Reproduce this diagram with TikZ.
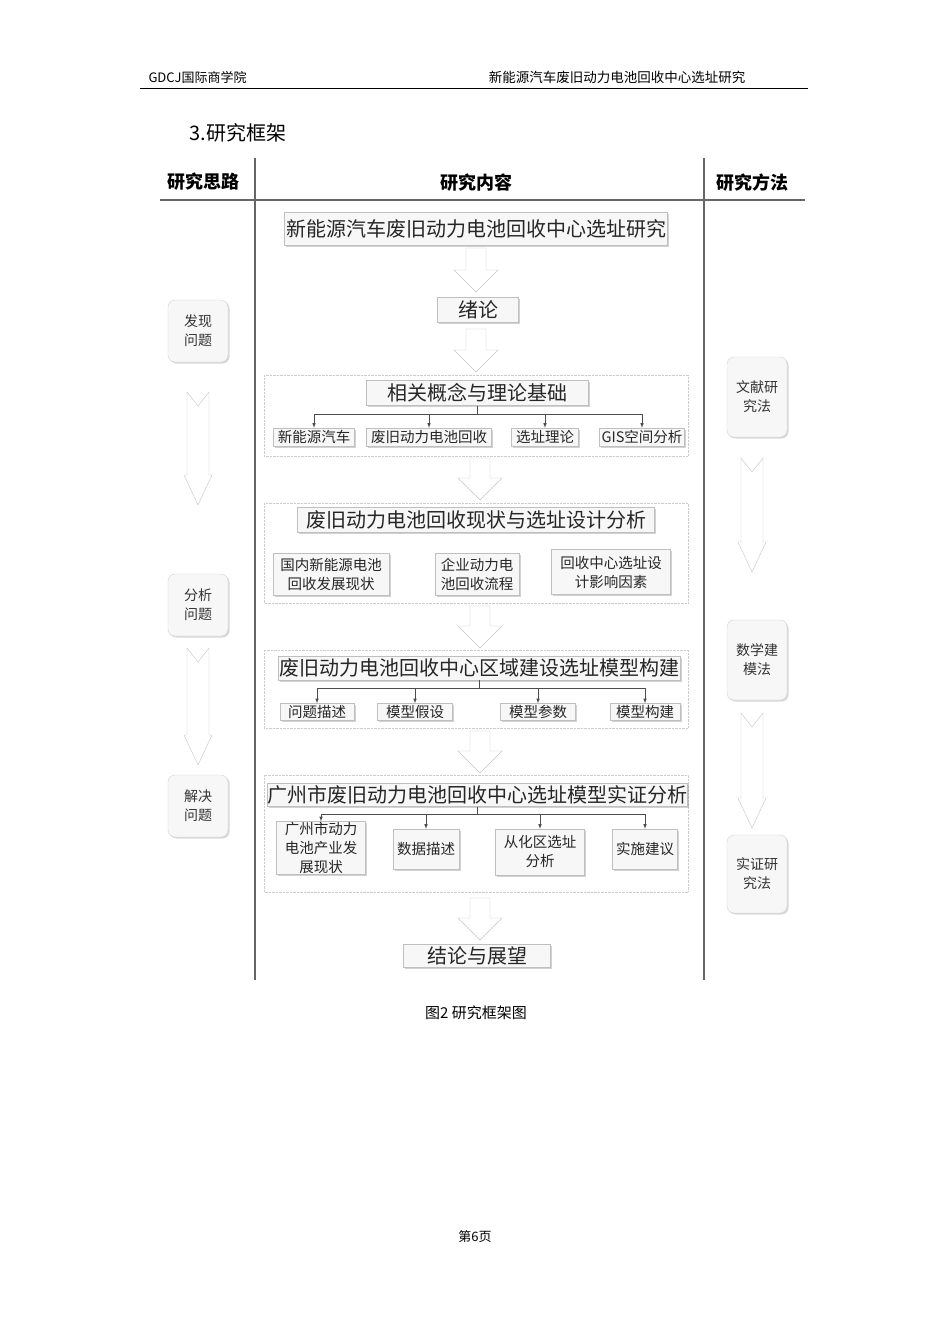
\documentclass[tikz,border=0pt]{standalone}
\usepackage{fontspec}
\setmainfont{Noto Sans CJK SC}
\newfontfamily\cjk{Noto Sans CJK SC}
\usetikzlibrary{shadows,calc}
\newcommand\bigarr[3]{% x, ytop, ybot
 \draw[gray!45,fill=white] (#1-10,#2) -- (#1+10,#2) -- (#1+10,#3-22) -- (#1+22,#3-22) -- (#1,#3) -- (#1-22,#3-22) -- (#1-10,#3-22) -- cycle;}
\newcommand\thinarr[3]{%
 \draw[gray!45,fill=white] (#1-11,#2) -- (#1,#2+14) -- (#1+11,#2) -- (#1+11,#3-30) -- (#1+14,#3-30) -- (#1,#3) -- (#1-14,#3-30) -- (#1-11,#3-30) -- cycle;}
\begin{document}
\begin{tikzpicture}[x=1pt,y=-1pt,
 bx/.style={draw=gray!50,fill=gray!6,drop shadow={shadow xshift=1.5pt,shadow yshift=-1.5pt,opacity=.35},inner sep=0pt,text=black!85,align=center},
 rb/.style={draw=gray!35,fill=gray!6,rounded corners=7pt,drop shadow={shadow xshift=1.5pt,shadow yshift=-1.5pt,opacity=.3},minimum width=60pt,font=\fontsize{14}{19}\selectfont,align=center,text=black!80},
 dbox/.style={draw=gray!40,densely dotted},
 sub/.style={bx,font=\fontsize{14.5}{19}\selectfont},
 tt/.style={bx,font=\fontsize{20}{22}\selectfont},
 ar/.style={-latex,black!70,line width=0.6pt}]
\useasboundingbox (0,0) rectangle (950,1344);
\fill[white] (0,0) rectangle (950,1344);
% header
\node[anchor=west,font=\fontsize{13}{14}\selectfont] (h1) at (145,77) {GDCJ国际商学院};
\node[anchor=east,font=\fontsize{13.5}{14}\selectfont] (h2) at (749,77) {新能源汽车废旧动力电池回收中心选址研究};
\draw[line width=0.6pt] (140,88) -- (808,88);
\node[anchor=west,font=\fontsize{20}{22}\selectfont] (sec) at (186,133) {3.研究框架};
% table lines
\draw[gray!80!black,line width=1.2pt] (255,158) -- (255,980);
\draw[gray!80!black,line width=1.2pt] (704,158) -- (704,980);
\draw[gray!80!black,line width=1.2pt] (160,200) -- (805,200);
\node[font=\bfseries\fontsize{18}{20}\selectfont] (c1) at (203,182) {研究思路};
\node[font=\bfseries\fontsize{18}{20}\selectfont] (c2) at (476,183) {研究内容};
\node[font=\bfseries\fontsize{18}{20}\selectfont] (c3) at (752,183) {研究方法};
% main column
\node[tt,minimum width=383pt,minimum height=33pt] (t0) at (476,229) {新能源汽车废旧动力电池回收中心选址研究};
\bigarr{476}{248}{292}
\node[tt,minimum width=81pt,minimum height=25pt] (t1) at (478,310) {绪论};
\bigarr{476}{329}{372}
% box1
\draw[dbox] (264,375) rectangle (688,456);
\node[tt,minimum width=222pt,minimum height=25pt] (b1) at (477,393) {相关概念与理论基础};
\node[sub,minimum width=81pt,minimum height=18pt] (b11) at (314,437) {新能源汽车};
\node[sub,minimum width=125pt,minimum height=18pt] (b12) at (429,437) {废旧动力电池回收};
\node[sub,minimum width=67pt,minimum height=18pt] (b13) at (545,437) {选址理论};
\node[sub,minimum width=85pt,minimum height=18pt] (b14) at (642,437) {GIS空间分析};
\draw[black!70,line width=0.6pt] (b1.south) -- ++(0,9);
\draw[black!70,line width=0.6pt] (314,414) -- (642,414);
\foreach \n in {b11,b12,b13,b14}{\draw[ar] (\n.north |- 0,414) -- (\n.north);}
\bigarr{480}{458}{500}
% box2
\draw[dbox] (264,503) rectangle (688,603);
\node[tt,minimum width=357pt,minimum height=25pt] (b2) at (476,520) {废旧动力电池回收现状与选址设计分析};
\node[sub,minimum width=116pt,minimum height=42pt] (b21) at (331,574) {国内新能源电池\\回收发展现状};
\node[sub,minimum width=84pt,minimum height=42pt] (b22) at (477,574) {企业动力电\\池回收流程};
\node[sub,minimum width=119pt,minimum height=45pt] (b23) at (611,572) {回收中心选址设\\计影响因素};
\bigarr{480}{606}{648}
% box3
\draw[dbox] (264,650) rectangle (688,728);
\node[tt,minimum width=402pt,minimum height=24pt] (b3) at (479,668) {废旧动力电池回收中心区域建设选址模型构建};
\node[sub,minimum width=74pt,minimum height=17pt] (b31) at (317,712) {问题描述};
\node[sub,minimum width=75pt,minimum height=17pt] (b32) at (415,712) {模型假设};
\node[sub,minimum width=75pt,minimum height=17pt] (b33) at (538,712) {模型参数};
\node[sub,minimum width=70pt,minimum height=17pt] (b34) at (645,712) {模型构建};
\draw[black!70,line width=0.6pt] (b3.south) -- ++(0,8);
\draw[black!70,line width=0.6pt] (317,688) -- (645,688);
\foreach \n in {b31,b32,b33,b34}{\draw[ar] (\n.north |- 0,688) -- (\n.north);}
\bigarr{480}{731}{773}
% box4
\draw[dbox] (264,775) rectangle (688,892);
\node[tt,minimum width=419pt,minimum height=23pt] (b4) at (477,795) {广州市废旧动力电池回收中心选址模型实证分析};
\node[sub,minimum width=89pt,minimum height=53pt] (b41) at (321,848) {广州市动力\\电池产业发\\展现状};
\node[sub,minimum width=66pt,minimum height=40pt] (b42) at (426,849) {数据描述};
\node[sub,minimum width=89pt,minimum height=46pt] (b43) at (540,852) {从化区选址\\分析};
\node[sub,minimum width=65pt,minimum height=40pt] (b44) at (645,849) {实施建议};
\draw[black!70,line width=0.6pt] (b4.south) -- ++(0,8);
\draw[black!70,line width=0.6pt] (321,814) -- (645,814);
\foreach \n in {b41,b42,b43,b44}{\draw[ar] (\n.north |- 0,814) -- (\n.north);}
\bigarr{480}{898}{940}
\node[tt,minimum width=147pt,minimum height=23pt] (t5) at (477,956) {结论与展望};
% left column
\node[rb,minimum height=62pt] (l1) at (198,331) {发现\\问题};
\node[rb,minimum height=62pt] (l2) at (198,605) {分析\\问题};
\node[rb,minimum height=62pt] (l3) at (198,806) {解决\\问题};
\thinarr{198}{392}{505}
\thinarr{198}{648}{765}
% right column
\node[rb,minimum height=80pt] (r1) at (757,397) {文献研\\究法};
\node[rb,minimum height=80pt] (r2) at (757,660) {数学建\\模法};
\node[rb,minimum height=78pt] (r3) at (757,874) {实证研\\究法};
\thinarr{752}{458}{572}
\thinarr{752}{713}{828}
% caption
\node[font=\fontsize{15}{16}\selectfont] (cap) at (476,1013) {图2\ 研究框架图};
\node[font=\fontsize{13}{14}\selectfont] (pg) at (475,1237) {第6页};
\end{tikzpicture}
\end{document}
